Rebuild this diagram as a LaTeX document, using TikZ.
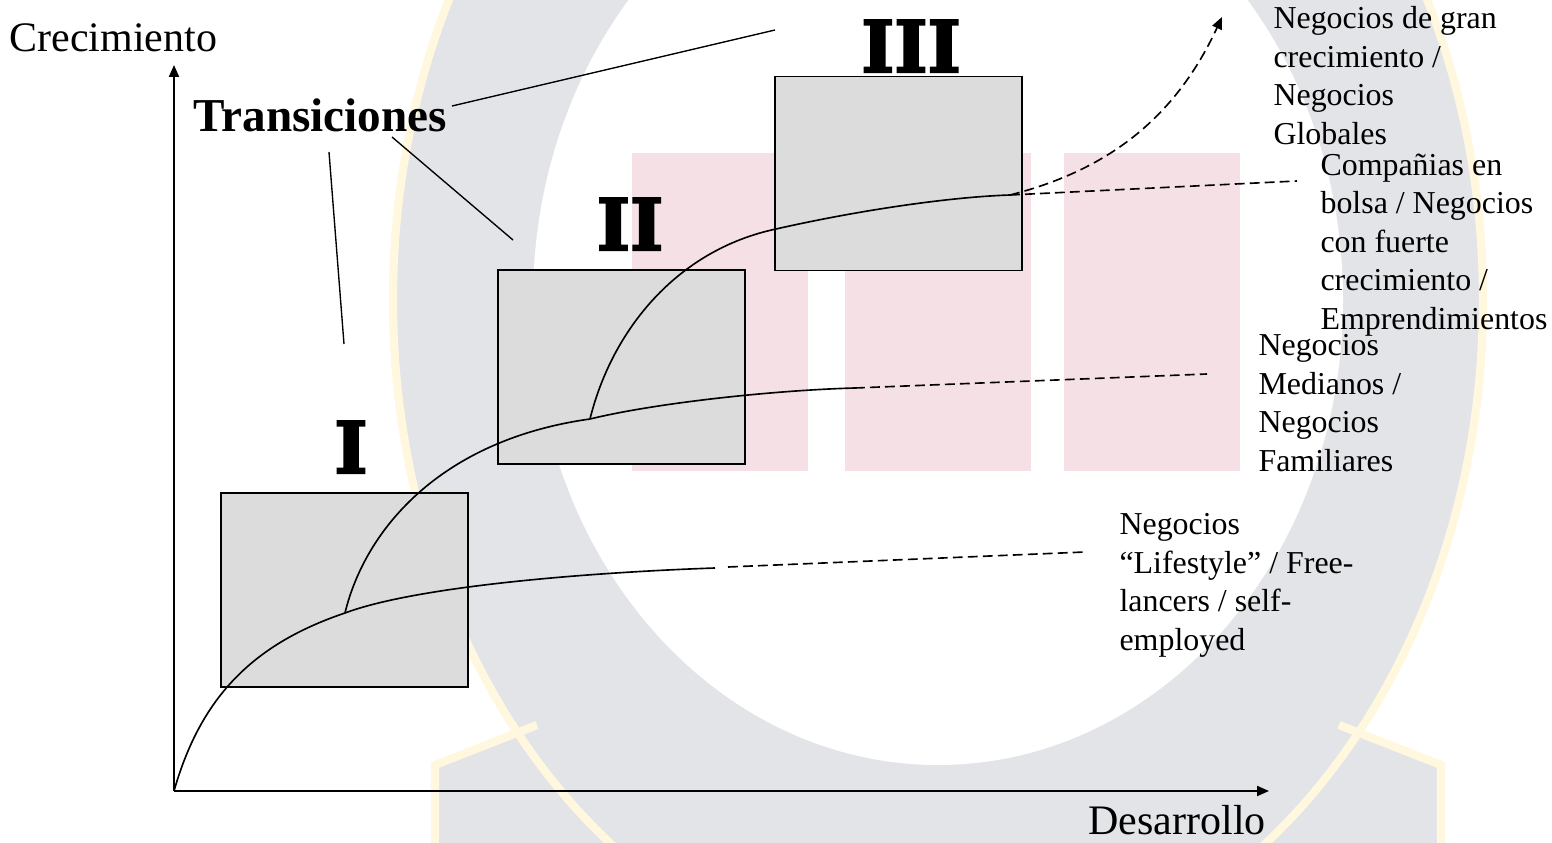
\documentclass[tikz,border=0pt]{standalone}
\usepackage{fontspec}
\setmainfont{Liberation Serif}
\newfontfamily\slabfont{DejaVu Serif Bold}[FakeBold=3]
\usepackage{tikz}
\usetikzlibrary{arrows.meta}
\definecolor{wmgrey}{RGB}{227,228,232}
\definecolor{wmpink}{RGB}{245,225,229}
\definecolor{wmyellow}{RGB}{255,247,222}
\definecolor{panelgrey}{RGB}{220,220,220}
\tikzset{
  panel/.style={draw, line width=0.7pt, fill=panelgrey, inner sep=0pt,
                minimum width=90.5pt, minimum height=71.1pt},
  numeral/.style={font=\slabfont\fontsize{26}{30}\selectfont,
                  inner sep=0pt, anchor=base},
  axlbl/.style={font=\fontsize{15.4}{18}\selectfont, inner sep=0pt,
                anchor=base west},
  side/.style={font=\fontsize{11.7}{14.1}\selectfont, align=left,
               inner sep=0pt, anchor=north west},
  axis/.style={line width=0.6pt, -{Triangle[length=4.4pt, width=3.7pt]}},
  curve/.style={line width=0.6pt},
  trail/.style={line width=0.6pt, dash pattern=on 3.6pt off 1.9pt},
  link/.style={line width=0.5pt},
  rim/.style={wmyellow, line width=3pt},
}

\begin{document}
\begin{tikzpicture}[x=0.128866mm, y=-0.128866mm]
  \useasboundingbox (0,0) rectangle (1552,843);
  \clip (0,0) rectangle (1552,843);
  % faint logo behind the chart
  \fill[wmgrey] (938,300) ellipse [x radius=545, y radius=680];
  \fill[wmgrey] (537,725) -- (435,765) -- (435,843) -- (659,843) -- cycle;
  \fill[wmgrey] (1339,725) -- (1441,765) -- (1441,843) -- (1217,843) -- cycle;
  \draw[rim] (938,300) ellipse [x radius=545, y radius=680];
  \draw[rim] (537,725) -- (435,765) -- (435,843);
  \draw[rim] (1339,725) -- (1441,765) -- (1441,843);
  \fill[white] (938,300) ellipse [x radius=405, y radius=465];
  \fill[wmpink] (632,153) rectangle (808,471);
  \fill[wmpink] (845,153) rectangle (1031,471);
  \fill[wmpink] (1064,153) rectangle (1240,471);
  % axes
  \coordinate (O) at (174,791);
  \coordinate (ytip) at (174,65);
  \coordinate (xtip) at (1269,791);
  \draw[axis] (O) -- (ytip);
  \draw[axis] (O) -- (xtip);
  \node[axlbl] (ylbl) at (9,52) {Crecimiento};
  \node[axlbl] (xlbl) at (1088,834) {Desarrollo};
  % stages
  \node[panel] (b1) at (344.5,590) {};
  \node[panel] (b2) at (621.5,367) {};
  \node[panel] (b3) at (898.5,173.5) {};
  \node[numeral] (n1) at (351,473) {I};
  \node[numeral] (n2) at (630,250) {II};
  \node[numeral] (n3) at (911,72) {III};
  % transitions
  \node[axlbl, font=\bfseries\fontsize{17.3}{20}\selectfont] (trans)
    at (193,132) {Transiciones};
  \coordinate (t1a) at (329,152);
  \coordinate (t1b) at (344,344);
  \coordinate (t2a) at (392,137);
  \coordinate (t2b) at (513,240);
  \coordinate (t3a) at (452,106);
  \coordinate (t3b) at (775,30);
  \draw[link] (t1a) -- (t1b);
  \draw[link] (t2a) -- (t2b);
  \draw[link] (t3a) -- (t3b);
  % growth curves
  \coordinate (k1) at (345,613);
  \coordinate (k2) at (590,419);
  \coordinate (k3) at (776,229);
  \coordinate (e1) at (715,568);
  \coordinate (e2) at (855,388);
  \coordinate (e3) at (1010,195);
  \draw[curve] (O) .. controls (200,700) and (250,645) .. (k1)
    .. controls (420,585) and (600,572) .. (e1);
  \draw[curve] (k1) .. controls (365,530) and (440,440) .. (k2)
    .. controls (660,402) and (780,390) .. (e2);
  \draw[curve] (k2) .. controls (612,330) and (677,250) .. (k3)
    .. controls (860,210) and (950,197) .. (e3);
  % dashed trails to the labels
  \coordinate (d1a) at (728,567);
  \coordinate (d1b) at (1085,552);
  \coordinate (d2b) at (1207,374);
  \coordinate (d3b) at (1297,181);
  \coordinate (d4b) at (1222,17);
  \draw[trail] (d1a) -- (d1b);
  \draw[trail] (e2) -- (d2b);
  \draw[trail] (e3) -- (d3b);
  \draw[trail, -{Triangle[length=4.4pt, width=3.7pt]}] (e3)
    .. controls (1100,172) and (1172,125) .. (d4b);
  % business types
  \node[side] (g4) at (1273,6)
    {Negocios de gran\\crecimiento /\\Negocios\\Globales};
  \node[side] (g3) at (1320,153.4)
    {Compañias en\\bolsa / Negocios\\con fuerte\\crecimiento /\\Emprendimientos};
  \node[side] (g2) at (1258,334)
    {Negocios\\Medianos /\\Negocios\\Familiares};
  \node[side] (g1) at (1119,513)
    {Negocios\\“Lifestyle” / Free-\\lancers / self-\\employed};
\end{tikzpicture}
\end{document}
